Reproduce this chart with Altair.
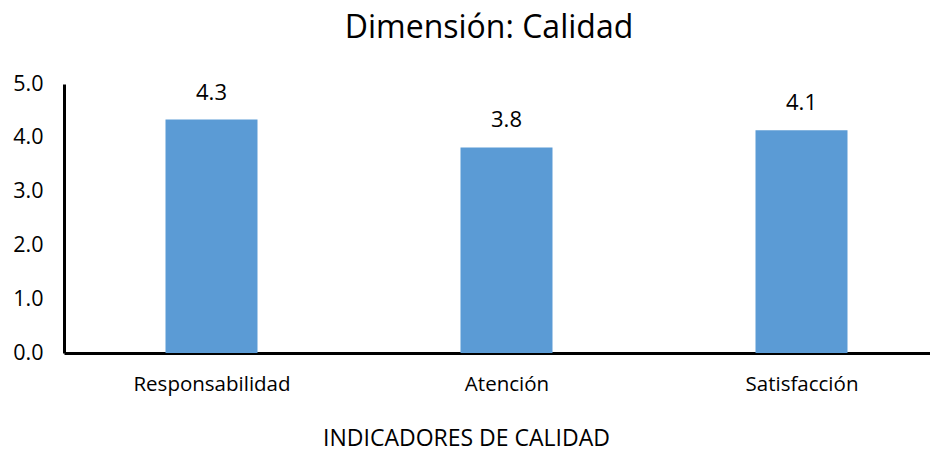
import altair as alt
import pandas as pd

categories = ["Responsabilidad", "Atención", "Satisfacción"]
values = [4.34, 3.82, 4.14]
positions = [1, 2, 3]

df = pd.DataFrame({"indicador": categories, "valor": values, "pos": positions})

FONT = "Open Sans"
label_list = "[" + ",".join("'" + c + "'" for c in categories) + "]"

x = alt.X(
    "pos:Q",
    scale=alt.Scale(domain=[0.5, 3.4356], nice=False, zero=False, padding=0),
    axis=alt.Axis(
        title="INDICADORES DE CALIDAD",
        values=positions,
        labelExpr=label_list + "[datum.value - 1]",
        labelAngle=0,
        ticks=False,
        grid=False,
        labelPadding=21,
        labelFontSize=20.5,
        labelFont=FONT,
        labelColor="#000000",
        titleFont=FONT,
        titleFontSize=23,
        titleFontWeight="normal",
        titleColor="#000000",
        titlePadding=33,
        titleX=402,
        titleAlign="center",
        domainColor="#000000",
        domainWidth=3,
    ),
)
y = alt.Y(
    "valor:Q",
    scale=alt.Scale(domain=[0, 5], nice=False),
    axis=alt.Axis(
        title=None,
        values=[0, 1, 2, 3, 4, 5],
        format=".1f",
        grid=False,
        ticks=False,
        labelPadding=21,
        labelFontSize=21.5,
        labelFont=FONT,
        labelColor="#000000",
        domainColor="#000000",
        domainWidth=3,
    ),
)

bars = alt.Chart(df).mark_bar(size=92, color="#5B9BD5").encode(x=x, y=y)
labels = alt.Chart(df).mark_text(
    baseline="alphabetic", dy=-20, fontSize=22, font=FONT, color="#000000"
).encode(x=x, y=y, text=alt.Text("valor:Q", format=".1f"))

chart = (
    alt.layer(bars, labels)
    .properties(
        width=866,
        height=269,
        autosize=alt.AutoSizeParams(type="none"),
        padding={"left": 56, "top": 76, "right": 0, "bottom": 100},
        title=alt.TitleParams(
            "Dimensión: Calidad",
            fontSize=32,
            font=FONT,
            fontWeight="normal",
            color="#000000",
            anchor="middle",
            dx=-8,
            offset=28,
        ),
    )
    .configure_view(stroke=None)
)

chart.save("out.html", embed_options={"renderer": "svg", "actions": False})
